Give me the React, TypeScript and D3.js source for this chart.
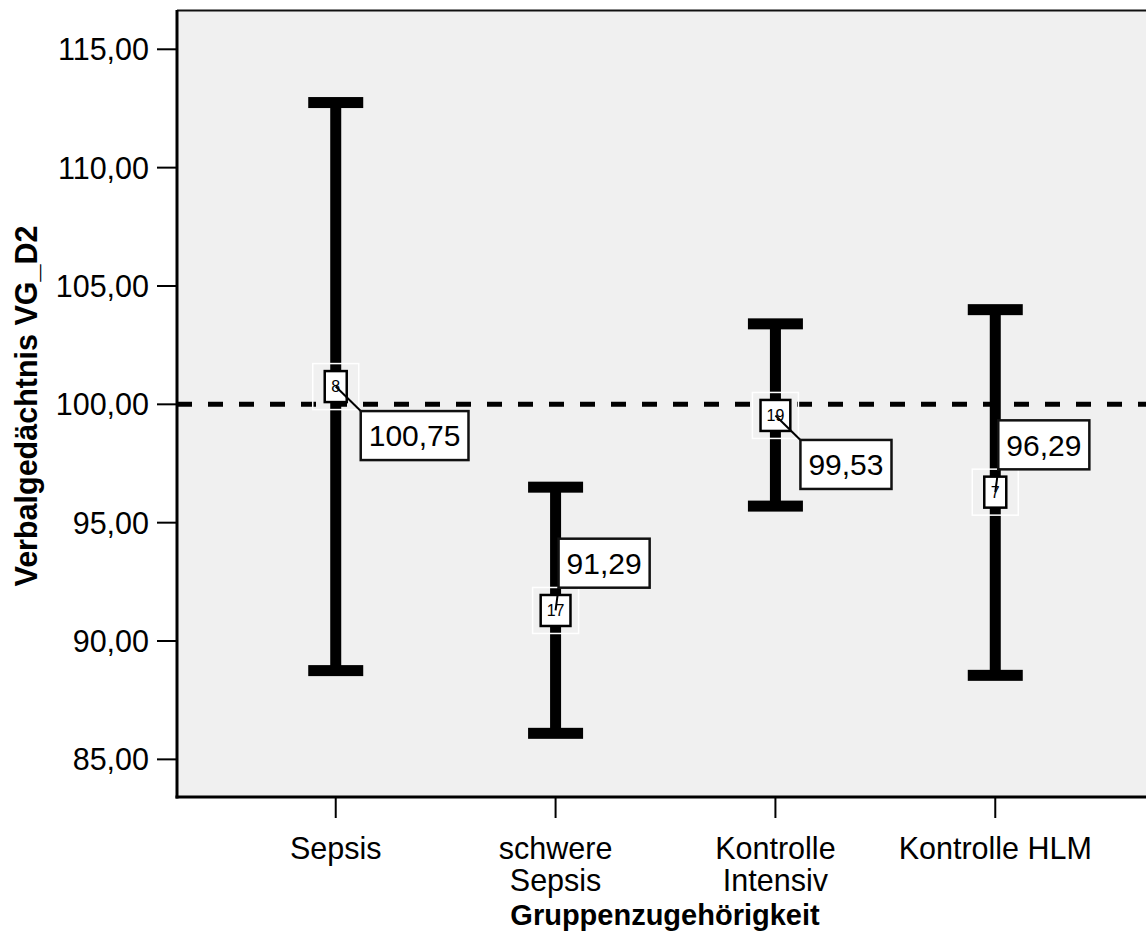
import React from "react";
import * as d3 from "d3";

const categories = ["Sepsis", "schwere Sepsis", "Kontrolle Intensiv", "Kontrolle HLM"];
const categoryLines = [["Sepsis"], ["schwere", "Sepsis"], ["Kontrolle", "Intensiv"], ["Kontrolle HLM"]];
const means = [100.75, 91.29, 99.53, 96.29];
const upperCI = [112.75, 96.5, 103.4, 104.0];
const lowerCI = [88.75, 86.1, 95.7, 88.55];
const counts = [8, 17, 19, 7];
const labelPlacement = ["below", "above", "below", "above"];
const yTicks = [85, 90, 95, 100, 105, 110, 115];
const referenceValue = 100;
const yTitle = "Verbalgedächtnis VG_D2";
const xTitle = "Gruppenzugehörigkeit";

const W = 1146;
const H = 945;
const FONT = "'Liberation Sans', Arial, Helvetica, sans-serif";
const plotLeft = 177;
const plotRight = 1154;
const plotTop = 10;
const plotBottom = 797;

const fmt = (v: number) => d3.format(".2f")(v).replace(".", ",");

function textWidth(s: string, size: number, bold = false) {
  if (typeof document === "undefined") return s.length * size * 0.55;
  const c = (textWidth as any).c || ((textWidth as any).c = document.createElement("canvas"));
  const ctx = c.getContext("2d");
  ctx.font = `${bold ? "bold " : ""}${size}px ${FONT}`;
  return ctx.measureText(s).width;
}

export default function App() {
  const x = d3.scalePoint<string>().domain(categories).range([plotLeft, plotRight]).padding(0.722);
  const y = d3.scaleLinear().domain([83.41, 116.66]).range([plotBottom, plotTop]);

  const tickFont = 30.5;
  const labelFont = 30;
  const capW = 55;
  const capH = 11;
  const barW = 11;

  return (
    <svg width={W} height={H} style={{ position: "absolute", left: 0, top: 0, background: "#fff" }}
      fontFamily={FONT}>
      <rect x={plotLeft} y={plotTop} width={plotRight - plotLeft} height={plotBottom - plotTop} fill="#f0f0f0" />
      {/* top frame */}
      <line x1={plotLeft} x2={plotRight} y1={plotTop + 0.5} y2={plotTop + 0.5} stroke="#111" strokeWidth={2} />
      {/* reference line */}
      <line x1={plotLeft} x2={plotRight} y1={y(referenceValue)} y2={y(referenceValue)} stroke="#000"
        strokeWidth={5} strokeDasharray="15,16" />
      {/* y ticks */}
      {yTicks.map((t) => (
        <g key={t}>
          <line x1={157} x2={plotLeft} y1={y(t)} y2={y(t)} stroke="#000" strokeWidth={2} />
          <text x={149} y={y(t)} dy="0.36em" textAnchor="end" fontSize={tickFont} fill="#000">{fmt(t)}</text>
        </g>
      ))}
      {/* x ticks */}
      {categories.map((c, i) => (
        <g key={c}>
          <line x1={x(c)} x2={x(c)} y1={plotBottom} y2={818} stroke="#000" strokeWidth={2} />
          {categoryLines[i].map((ln, j) => (
            <text key={j} x={x(c)} y={848 + j * 32} dy="0.36em" textAnchor="middle" fontSize={tickFont} fill="#000">{ln}</text>
          ))}
        </g>
      ))}
      {/* error bars */}
      {categories.map((c, i) => {
        const cx = x(c)!;
        return (
          <g key={"eb" + c}>
            <rect x={cx - barW / 2} y={y(upperCI[i])} width={barW} height={y(lowerCI[i]) - y(upperCI[i])} fill="#000" />
            <rect x={cx - capW / 2} y={y(upperCI[i]) - capH / 2} width={capW} height={capH} fill="#000" />
            <rect x={cx - capW / 2} y={y(lowerCI[i]) - capH / 2} width={capW} height={capH} fill="#000" />
          </g>
        );
      })}
      {/* mean markers and labels */}
      {categories.map((c, i) => {
        const cx = x(c)!;
        const cy = y(means[i]);
        const cnt = String(counts[i]);
        const bw = Math.max(22, textWidth(cnt, 16) + 12);
        const bh = 31;
        const lbl = fmt(means[i]);
        const lw = textWidth(lbl, labelFont) + 16;
        const lh = 49;
        const below = labelPlacement[i] === "below";
        const lx = below ? cx + 25 : cx + 3;
        const ly = below ? cy + 24.5 : cy - 22.8 - lh;
        const cornerY = below ? ly : ly + lh;
        return (
          <g key={"m" + c}>
            <rect x={cx - 23} y={cy - 23} width={46} height={46} fill="none" stroke="#fff" strokeWidth={1.5} />
            <rect x={cx - bw / 2} y={cy - bh / 2} width={bw} height={bh} fill="#fff" stroke="#000" strokeWidth={2.5} />
            <text x={cx} y={cy} dy="0.36em" textAnchor="middle" fontSize={16} fill="#000">{cnt}</text>
            <line x1={cx} y1={cy} x2={lx} y2={cornerY} stroke="#000" strokeWidth={2} />
            <rect x={lx} y={ly} width={lw} height={lh} fill="#fff" stroke="#111" strokeWidth={2.5} />
            <text x={lx + lw / 2} y={ly + lh / 2} dy="0.36em" textAnchor="middle" fontSize={labelFont} fill="#000">{lbl}</text>
          </g>
        );
      })}
      {/* axes */}
      <line x1={plotLeft} x2={plotLeft} y1={plotTop} y2={plotBottom + 1.5} stroke="#000" strokeWidth={3} />
      <line x1={plotLeft - 1.5} x2={plotRight} y1={plotBottom} y2={plotBottom} stroke="#000" strokeWidth={3} />
      {/* titles */}
      <text x={665} y={915} dy="0.36em" textAnchor="middle" fontSize={29} fontWeight="bold" fill="#000">{xTitle}</text>
      <text transform={`translate(37,406) rotate(-90)`} textAnchor="middle"
        fontSize={30.5} fontWeight="bold" fill="#000">{yTitle}</text>
    </svg>
  );
}
